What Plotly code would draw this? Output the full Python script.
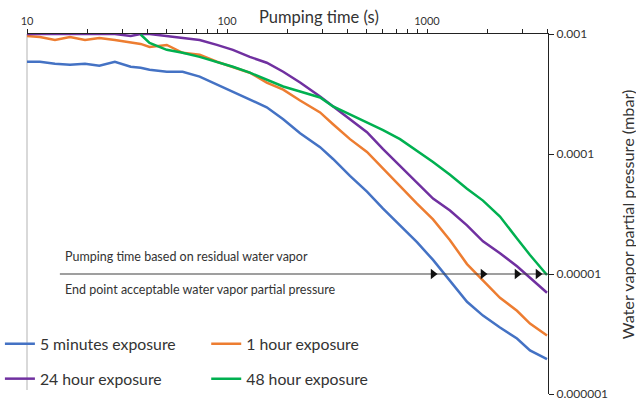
import plotly.graph_objects as go

# Pumping time (s), shared sample grid for all curves
time_s = [10, 11.6, 13.8, 16.4, 19.5, 23, 27.5, 33, 37, 41, 50, 60, 73, 89, 107,
          130, 158, 191, 232, 292, 339, 412, 501, 603, 733, 891, 1072, 1303,
          1585, 1905, 2317, 2818, 3273, 3981]

# Water vapor partial pressure (mbar)
p_5min = [5.87e-4, 5.87e-4, 5.65e-4, 5.54e-4, 5.65e-4, 5.44e-4, 5.87e-4, 5.34e-4,
          5.24e-4, 5.04e-4, 4.85e-4, 4.85e-4, 4.41e-4, 3.79e-4, 3.32e-4, 2.85e-4,
          2.45e-4, 1.95e-4, 1.49e-4, 1.14e-4, 9.09e-5, 6.58e-5, 4.85e-5, 3.51e-5,
          2.54e-5, 1.84e-5, 1.31e-5, 8.75e-6, 5.87e-6, 4.50e-6, 3.58e-6, 2.90e-6,
          2.31e-6, 1.95e-6]
p_1h = [9.63e-4, 9.45e-4, 8.92e-4, 9.45e-4, 8.92e-4, 9.27e-4, 8.92e-4, 8.59e-4,
        8.27e-4, 7.81e-4, 8.11e-4, 6.97e-4, 6.71e-4, 5.87e-4, 5.34e-4, 4.76e-4,
        3.94e-4, 3.44e-4, 2.79e-4, 2.22e-4, 1.77e-4, 1.33e-4, 1.04e-4, 7.52e-5,
        5.44e-5, 3.86e-5, 2.85e-5, 1.91e-5, 1.21e-5, 8.92e-6, 6.33e-6, 4.94e-6,
        3.86e-6, 3.07e-6]
p_24h = [1.0e-3, 1.0e-3, 1.0e-3, 1.0e-3, 1.0e-3, 1.0e-3, 1.0e-3, 9.63e-4,
         1.0e-3, 1.0e-3, 9.63e-4, 9.27e-4, 8.92e-4, 8.11e-4, 7.38e-4, 6.45e-4,
         5.76e-4, 4.85e-4, 3.94e-4, 3.01e-4, 2.49e-4, 1.95e-4, 1.52e-4, 1.10e-4,
         7.96e-5, 5.87e-5, 4.25e-5, 3.38e-5, 2.54e-5, 1.87e-5, 1.49e-5, 1.16e-5,
         9.27e-6, 6.97e-6]
p_48h = [None, None, None, None, None, None, None, None,
         9.9e-4, 8.43e-4, 7.38e-4, 6.97e-4, 6.45e-4, 5.87e-4, 5.34e-4, 4.76e-4,
         4.17e-4, 3.65e-4, 3.32e-4, 2.96e-4, 2.49e-4, 2.14e-4, 1.84e-4, 1.58e-4,
         1.33e-4, 1.06e-4, 8.59e-5, 6.71e-5, 5.14e-5, 4.09e-5, 3.01e-5, 1.98e-5,
         1.44e-5, 9.82e-6]

series_names = ["5 minutes exposure", "1 hour exposure", "24 hour exposure", "48 hour exposure"]
series_values = [p_5min, p_1h, p_24h, p_48h]
series_colors = ["#4472C4", "#ED7D31", "#7030A0", "#00B050"]

# Acceptable end-point pressure and the pumping times where each curve reaches it
end_point_pressure = 1e-5
end_point_line_start = 14.6
end_point_times = [1072, 1905, 2818, 3589]

y_tickvals = [1e-3, 1e-4, 1e-5, 1e-6]
y_ticktext = ["0.001", "0.0001", "0.00001", "0.000001"]
x_tickvals = [10, 100, 1000]
x_ticktext = ["10", "100", "1000"]

FONT = "Lato, 'Open Sans', sans-serif"
TEXT = "#333333"

# Legend grid: two columns, two rows (one single-entry legend per cell)
legend_cells = [(-0.052, 0.139), (0.344, 0.139), (-0.052, 0.042), (0.344, 0.042)]
legend_ids = ["legend", "legend2", "legend3", "legend4"]

fig = go.Figure()

for name, vals, color, leg in zip(series_names, series_values, series_colors, legend_ids):
    fig.add_trace(go.Scatter(
        x=time_s, y=vals, name=name, mode="lines",
        line=dict(color=color, width=2.5),
        legend=leg,
    ))

# End-point reference line with markers at the crossing times
fig.add_trace(go.Scatter(
    x=[end_point_line_start, 4030], y=[end_point_pressure, end_point_pressure],
    mode="lines", line=dict(color="#404040", width=1.2),
    showlegend=False, hoverinfo="skip",
))
fig.add_trace(go.Scatter(
    x=end_point_times, y=[end_point_pressure] * len(end_point_times),
    mode="markers", marker=dict(symbol="triangle-right", size=9, color="#111111"),
    showlegend=False,
))

legend_layout = {}
for leg, (lx, ly) in zip(legend_ids, legend_cells):
    legend_layout[leg] = dict(
        orientation="h", x=lx, y=ly, xanchor="left", yanchor="middle",
        bgcolor="rgba(0,0,0,0)", itemwidth=30,
        font=dict(size=15.8, family=FONT, color=TEXT),
    )

fig.update_layout(
    width=636, height=402,
    margin=dict(l=27, r=88, t=34, b=8, autoexpand=False),
    paper_bgcolor="white", plot_bgcolor="white",
    font=dict(family=FONT, color=TEXT, size=11),
    xaxis=dict(
        type="log", range=[1, 3.605], side="top",
        tickvals=x_tickvals, ticktext=x_ticktext,
        ticks="outside", ticklen=4, tickcolor="#222222",
        minor=dict(ticks="outside", ticklen=4, dtick="D1", tickcolor="#222222", showgrid=False),
        showline=True, linecolor="#222222", linewidth=1.2,
        showgrid=False, zeroline=False, layer="below traces",
        tickfont=dict(size=11, color=TEXT),
    ),
    yaxis=dict(
        type="log", range=[-6, -3], side="right",
        tickvals=y_tickvals, ticktext=y_ticktext,
        ticks="outside", ticklen=5, tickcolor="#222222",
        showline=True, linecolor="#222222", linewidth=1.2,
        showgrid=False, zeroline=False, ticklabeloverflow="allow",
        tickfont=dict(size=12, color=TEXT),
    ),
    shapes=[dict(type="line", xref="paper", yref="paper", x0=0, x1=0, y0=0.011, y1=1,
                 line=dict(color="#d9d9d9", width=2), layer="below")],
    annotations=[
        dict(text="Pumping time (s)", xref="paper", yref="paper", x=0.56, y=1.047,
             showarrow=False, font=dict(size=16.5, color=TEXT), xanchor="center", yanchor="middle"),
        dict(text="Water vapor partial pressure (mbar)", xref="paper", yref="paper",
             x=1.152, y=0.5, textangle=-90, showarrow=False,
             font=dict(size=16.2, color=TEXT), xanchor="center", yanchor="middle"),
        dict(text="Pumping time based on residual water vapor", xref="paper", yref="paper",
             x=0.07, y=0.383, showarrow=False, xanchor="left", yanchor="middle",
             font=dict(size=12.5, color=TEXT)),
        dict(text="End point acceptable water vapor partial pressure", xref="paper", yref="paper",
             x=0.07, y=0.289, showarrow=False, xanchor="left", yanchor="middle",
             font=dict(size=12.5, color=TEXT)),
    ],
    **legend_layout,
)

fig.write_html("out.html")
